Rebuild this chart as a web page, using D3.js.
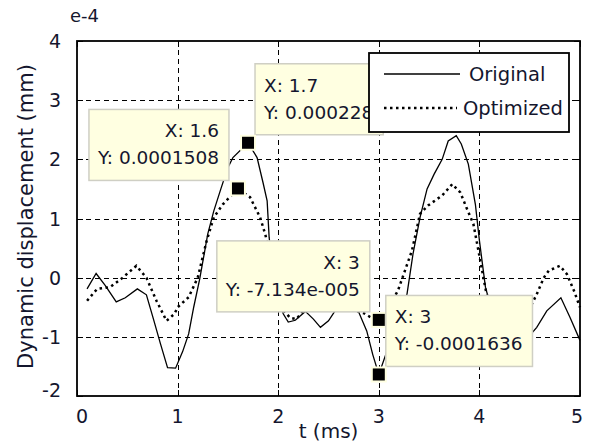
<!DOCTYPE html>
<html>
<head>
<meta charset="utf-8">
<script src="https://cdn.jsdelivr.net/npm/d3@7"></script>
<style>
  body { margin: 0; background: #fff; }
  text { font-family: "DejaVu Sans", sans-serif; fill: #14162e; }
</style>
</head>
<body>
<div id="chart-container"></div>
<script>
// time (ms) and displacement (units of 1e-4 mm)
var orig_t = [0.1, 0.19, 0.28, 0.39, 0.48, 0.6, 0.69, 0.76, 0.83, 0.9, 0.98, 1.05, 1.11, 1.16, 1.22, 1.3, 1.36, 1.43, 1.5, 1.55, 1.7, 1.79, 1.85, 1.89, 1.91, 1.95, 2.0, 2.05, 2.1, 2.17, 2.27, 2.35, 2.42, 2.5, 2.57, 2.65, 2.74, 2.8, 2.88, 2.94, 3.0, 3.1, 3.2, 3.28, 3.34, 3.41, 3.48, 3.55, 3.63, 3.69, 3.77, 3.82, 3.89, 3.96, 4.0, 4.06, 4.15, 4.25, 4.35, 4.45, 4.52, 4.57, 4.67, 4.81, 4.9, 5.0];
var orig_v = [-0.19, 0.07, -0.13, -0.41, -0.34, -0.19, -0.29, -0.7, -1.12, -1.52, -1.53, -1.25, -0.95, -0.5, -0.02, 0.74, 1.13, 1.5, 1.86, 2.03, 2.28, 2.03, 1.6, 1.3, 0.68, 0.1, -0.35, -0.61, -0.75, -0.72, -0.57, -0.7, -0.84, -0.73, -0.55, -0.42, -0.45, -0.58, -0.9, -1.3, -1.636, -1.15, -0.62, -0.28, 0.4, 1.02, 1.5, 1.75, 2.0, 2.31, 2.4, 2.26, 1.92, 1.24, 0.63, -0.16, -0.72, -0.98, -1.05, -1.0, -0.94, -0.84, -0.56, -0.34, -0.67, -1.06];

var opt_t = [0.1, 0.2, 0.33, 0.44, 0.59, 0.69, 0.79, 0.89, 0.97, 1.0, 1.11, 1.2, 1.29, 1.36, 1.45, 1.6, 1.72, 1.82, 1.87, 1.95, 2.0, 2.05, 2.12, 2.18, 2.27, 2.35, 2.45, 2.55, 2.65, 2.75, 2.85, 2.93, 3.0, 3.08, 3.19, 3.26, 3.33, 3.41, 3.49, 3.63, 3.73, 3.81, 3.87, 3.94, 3.99, 4.04, 4.07, 4.15, 4.25, 4.35, 4.45, 4.52, 4.57, 4.64, 4.69, 4.8, 4.87, 4.94, 5.0];
var opt_v = [-0.39, -0.19, -0.16, -0.02, 0.2, 0.0, -0.39, -0.73, -0.61, -0.5, -0.33, 0.0, 0.63, 1.02, 1.24, 1.508, 1.36, 1.02, 0.74, 0.2, -0.3, -0.55, -0.68, -0.7, -0.52, -0.55, -0.5, -0.45, -0.5, -0.55, -0.6, -0.68, -0.7134, -0.55, -0.22, 0.12, 0.46, 1.08, 1.22, 1.39, 1.58, 1.44, 1.19, 0.91, 0.46, 0.0, -0.27, -0.6, -0.8, -0.8, -0.6, -0.45, -0.28, 0.0, 0.12, 0.2, 0.06, -0.22, -0.5];

var series_names = ["Original", "Optimized"];
var x_ticks = [0, 1, 2, 3, 4, 5];
var y_ticks = [-2, -1, 0, 1, 2, 3, 4];

// data tips
var tip_series = ["Optimized", "Original", "Optimized", "Original"];
var tip_x = [1.6, 1.7, 3, 3];
var tip_x_text = ["1.6", "1.7", "3", "3"];
var tip_y_text = ["0.0001508", "0.000228", "-7.134e-005", "-0.0001636"];
var tip_side = ["left", "right", "left", "right"];

var margin = {top: 41, right: 9, bottom: 52, left: 77},
    width = 589 - margin.left - margin.right,
    height = 448 - margin.top - margin.bottom;

var svg = d3.select("#chart-container")
  .append("svg")
    .attr("width", 589)
    .attr("height", 448);

var g = svg.append("g")
    .attr("transform", "translate(" + margin.left + "," + margin.top + ")");

var x = d3.scaleLinear().domain([0, 5]).range([0, width]);
var y = d3.scaleLinear().domain([-2, 4]).range([height, 0]);

// grid (inner lines only), snapped to pixels
g.selectAll(".vgrid")
  .data(x_ticks.slice(1, -1))
  .join("line")
    .attr("x1", d => Math.round(x(d)) + 0.5).attr("x2", d => Math.round(x(d)) + 0.5)
    .attr("y1", 0).attr("y2", height)
    .attr("stroke", "#000")
    .attr("shape-rendering", "crispEdges")
    .attr("stroke-dasharray", "5,4");
g.selectAll(".hgrid")
  .data(y_ticks.slice(1, -1))
  .join("line")
    .attr("x1", 0).attr("x2", width)
    .attr("y1", d => Math.round(y(d)) + 0.5).attr("y2", d => Math.round(y(d)) + 0.5)
    .attr("stroke", "#000")
    .attr("shape-rendering", "crispEdges")
    .attr("stroke-dasharray", "5,4");

// curves
var line = d3.line()
    .x(d => x(d[0]))
    .y(d => y(d[1]));

var orig_pts = orig_t.map((t, i) => [t, orig_v[i]]);
var opt_pts = opt_t.map((t, i) => [t, opt_v[i]]);

g.append("path")
    .datum(orig_pts)
    .attr("d", line)
    .attr("fill", "none")
    .attr("stroke", "#000")
    .attr("stroke-width", 1.3);

g.append("path")
    .datum(opt_pts)
    .attr("d", line)
    .attr("fill", "none")
    .attr("stroke", "#000")
    .attr("stroke-width", 2.5)
    .attr("stroke-dasharray", "2.5,3.5");

// frame and inward ticks
g.append("rect")
    .attr("width", width).attr("height", height)
    .attr("fill", "none")
    .attr("stroke", "#000")
    .attr("stroke-width", 1.8);

x_ticks.forEach(function(d) {
    var xp = Math.round(x(d)) + 0.5;
    g.append("line").attr("x1", xp).attr("x2", xp).attr("y1", height).attr("y2", height - 6).attr("stroke", "#000").attr("shape-rendering", "crispEdges");
    g.append("line").attr("x1", xp).attr("x2", xp).attr("y1", 0).attr("y2", 6).attr("stroke", "#000").attr("shape-rendering", "crispEdges");
});
y_ticks.forEach(function(d) {
    var yp = Math.round(y(d)) + 0.5;
    g.append("line").attr("x1", 0).attr("x2", 6).attr("y1", yp).attr("y2", yp).attr("stroke", "#000").attr("shape-rendering", "crispEdges");
    g.append("line").attr("x1", width).attr("x2", width - 6).attr("y1", yp).attr("y2", yp).attr("stroke", "#000").attr("shape-rendering", "crispEdges");
});

// tick labels
g.selectAll(".xlab")
  .data(x_ticks)
  .join("text")
    .attr("x", d => Math.min(Math.max(x(d), 5), width - 3))
    .attr("y", height + 27)
    .attr("text-anchor", "middle")
    .attr("font-size", 19)
    .text(d => d);

g.selectAll(".ylab")
  .data(y_ticks)
  .join("text")
    .attr("x", -16)
    .attr("y", d => Math.min(y(d) + 7, height + 1))
    .attr("text-anchor", "end")
    .attr("font-size", 19)
    .text(d => d);

svg.append("text")
    .attr("x", 70).attr("y", 22)
    .attr("font-size", 18)
    .text("e-4");

// axis titles
svg.append("text")
    .attr("x", margin.left + width / 2).attr("y", 438)
    .attr("text-anchor", "middle")
    .attr("font-size", 20)
    .text("t (ms)");

svg.append("text")
    .attr("transform", "translate(33," + (margin.top + height / 2 - 2) + ") rotate(-90)")
    .attr("text-anchor", "middle")
    .attr("font-size", 21)
    .text("Dynamic displacement (mm)");

// data tips
function valueAt(name, t) {
    var ts = name == "Original" ? orig_t : opt_t;
    var vs = name == "Original" ? orig_v : opt_v;
    return vs[ts.indexOf(t)];
}

tip_x.forEach(function(t, i) {
    var mx = x(t), my = y(valueAt(tip_series[i], t));
    var tip = g.append("g");
    var box = tip.append("rect")
        .attr("fill", "#ffffe1")
        .attr("stroke", "#cfcfc4")
        .attr("stroke-width", 1.5);
    var t1 = tip.append("text").attr("font-size", 18.5).text("X: " + tip_x_text[i]);
    var t2 = tip.append("text").attr("font-size", 18.5).text("Y: " + tip_y_text[i]);
    var tw = Math.max(t1.node().getComputedTextLength(), t2.node().getComputedTextLength());
    var bw = tw + 19, bh = 71;
    var bx = tip_side[i] == "left" ? mx - 9 - bw : mx + 7;
    var by = my - 8 - bh;
    box.attr("x", bx).attr("y", by).attr("width", bw).attr("height", bh);
    if (tip_side[i] == "left") {
        t1.attr("x", bx + bw - 10).attr("text-anchor", "end");
        t2.attr("x", bx + bw - 10).attr("text-anchor", "end");
    } else {
        t1.attr("x", bx + 9);
        t2.attr("x", bx + 9);
    }
    t1.attr("y", by + 28);
    t2.attr("y", by + 55);
    tip.append("rect")
        .attr("x", mx - 7).attr("y", my - 7)
        .attr("width", 14).attr("height", 14)
        .attr("fill", "#000")
        .attr("stroke", "#ffffe1")
        .attr("stroke-width", 2);
});

// legend
var leg = g.append("g").attr("transform", "translate(" + (369 - margin.left) + "," + (53 - margin.top) + ")");
leg.append("rect")
    .attr("width", 200).attr("height", 79)
    .attr("fill", "#fff")
    .attr("stroke", "#000")
    .attr("stroke-width", 1.8);
series_names.forEach(function(name, i) {
    var ly = 21 + i * 34;
    leg.append("line")
        .attr("x1", 15).attr("x2", i == 0 ? 91 : 88)
        .attr("y1", ly).attr("y2", ly)
        .attr("stroke", "#000")
        .attr("stroke-width", i == 0 ? 1.3 : 2.5)
        .attr("stroke-dasharray", i == 0 ? null : "2.5,3.5");
    leg.append("text")
        .attr("x", i == 0 ? 100 : 94)
        .attr("y", ly + 7)
        .attr("font-size", 19.5)
        .text(name);
});
</script>
</body>
</html>
